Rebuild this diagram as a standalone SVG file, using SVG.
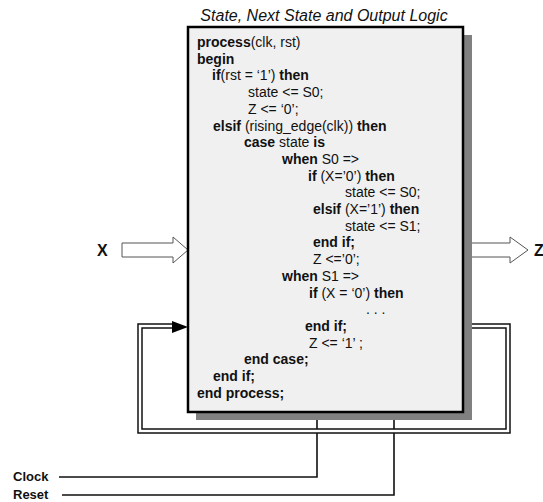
<svg xmlns="http://www.w3.org/2000/svg" width="543" height="502" viewBox="0 0 543 502">
<style>
.code{font-family:"Liberation Sans",Arial,sans-serif;font-size:14px;fill:#111}
.b{font-weight:bold}
.title{font-family:"Liberation Sans",Arial,sans-serif;font-size:16px;font-style:italic;fill:#111}
.lbl{font-family:"Liberation Sans",Arial,sans-serif;font-size:16px;font-weight:bold;fill:#111}
.sig{font-family:"Liberation Sans",Arial,sans-serif;font-size:13px;font-weight:bold;fill:#111}
.wire{fill:none;stroke:#111;stroke-width:1.6}
.hollow{fill:#fff;stroke:#555;stroke-width:1}
</style>
<rect width="543" height="502" fill="#fff"/>
<g id="connectors">
<path d="M59,477 H317 V412" class="wire"/>
<path d="M62,495 H394 V412" class="wire"/>
<path d="M463,326 H508 V431 H140 V326 H176" fill="none" stroke="#111" stroke-width="5.5"/>
<path d="M463,326 H508 V431 H140 V326 H176" fill="none" stroke="#fff" stroke-width="2.5"/>
<path d="M172,321 L188,327 L172,333 z" fill="#000"/>
<path d="M122,243 H173 V237 L188,250 L173,263 V257 H122 z" class="hollow"/>
<path d="M463,243 H510 V237 L528,250 L510,263 V257 H463 z" class="hollow"/>
</g>
<g id="logic">
<rect x="196" y="35" width="276" height="385" fill="#808080"/>
<rect x="188" y="27" width="275" height="385" fill="#f0f0f0" stroke="#000" stroke-width="2.5"/>
<text x="324" y="21" text-anchor="middle" class="title">State, Next State and Output Logic</text>
<text class="code" x="197" y="47"><tspan class="b">process</tspan>(clk, rst)</text>
<text class="code b" x="197" y="63.7">begin</text>
<text class="code" x="212" y="80.4"><tspan class="b">if</tspan>(rst = ‘1’) <tspan class="b">then</tspan></text>
<text class="code" x="248" y="97.1">state &lt;= S0;</text>
<text class="code" x="248" y="113.8">Z &lt;= ‘0’;</text>
<text class="code" x="213" y="130.5"><tspan class="b">elsif</tspan> (rising_edge(clk)) <tspan class="b">then</tspan></text>
<text class="code" x="244" y="147.2"><tspan class="b">case</tspan> state <tspan class="b">is</tspan></text>
<text class="code" x="282" y="163.9"><tspan class="b">when</tspan> S0 =&gt;</text>
<text class="code" x="308" y="180.6"><tspan class="b">if</tspan> (X=’0’) <tspan class="b">then</tspan></text>
<text class="code" x="345" y="197.3">state &lt;= S0;</text>
<text class="code" x="313" y="214"><tspan class="b">elsif</tspan> (X=’1’) <tspan class="b">then</tspan></text>
<text class="code" x="345" y="230.7">state &lt;= S1;</text>
<text class="code b" x="313" y="247.4">end if;</text>
<text class="code" x="313" y="264.1">Z &lt;=’0’;</text>
<text class="code" x="282" y="280.8"><tspan class="b">when</tspan> S1 =&gt;</text>
<text class="code" x="309" y="297.5"><tspan class="b">if</tspan> (X = ‘0’) <tspan class="b">then</tspan></text>
<text class="code" x="366" y="314.2">. . .</text>
<text class="code b" x="305" y="330.9">end if;</text>
<text class="code" x="309" y="347.6">Z &lt;= ‘1’ ;</text>
<text class="code b" x="244" y="364.3">end case;</text>
<text class="code b" x="213" y="381">end if;</text>
<text class="code b" x="197" y="397.7">end process;</text>
</g>
<g id="x-input"><text x="97" y="256" class="lbl">X</text></g>
<g id="z-output"><text x="534" y="256" class="lbl">Z</text></g>
<g id="clock"><text x="13" y="481" class="sig">Clock</text></g>
<g id="reset"><text x="13" y="499" class="sig">Reset</text></g>
</svg>
